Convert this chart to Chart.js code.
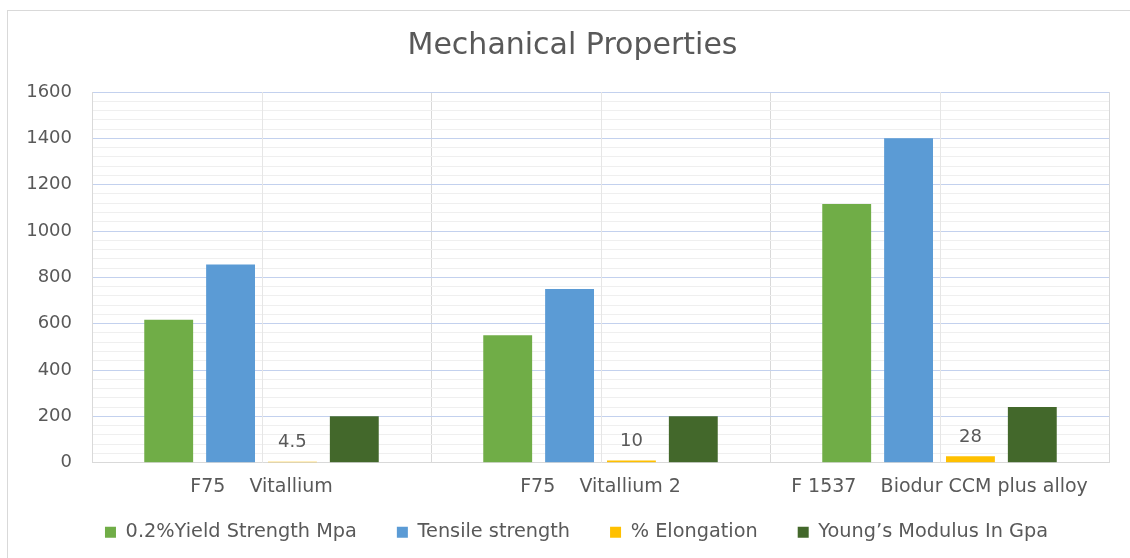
<!DOCTYPE html>
<html>
<head>
<meta charset="utf-8">
<script src="https://cdn.jsdelivr.net/npm/chart.js@4/dist/chart.umd.min.js"></script>
<style>
  html, body { margin: 0; padding: 0; background: #ffffff; }
  #wrap { width: 1130px; height: 558px; position: relative; }
</style>
</head>
<body>
<div id="wrap"><canvas id="c" width="1130" height="558"></canvas></div>
<script>
const categories = ["F75    Vitallium", "F75    Vitallium 2", "F 1537    Biodur CCM plus alloy"];
const seriesNames = ["0.2%Yield Strength Mpa", "Tensile strength", "% Elongation", "Young\u2019s Modulus In Gpa"];
const yieldStrength = [617, 550, 1117];
const tensileStrength = [856, 750, 1400];
const elongation = [4.5, 10, 28];
const youngsModulus = [200, 200, 240];
const seriesColors = ["#70AD47", "#5B9BD5", "#FFC000", "#43682B"];
const yTickMax = 1600;
const yMajorStep = 200;
const yMinorStep = 40;
const labelledSeries = [2];

const FONT = "'DejaVu Sans', 'Open Sans', sans-serif";
const TEXT = "#595959";

const frame = {
  id: 'frame',
  afterLayout(chart) {
    // centre title and legend a little to the right, as in the original
    if (chart.titleBlock) chart.titleBlock.left += 36;
    if (chart.legend) chart.legend.left += 44;
  },
  beforeDraw(chart) {
    const ctx = chart.ctx;
    ctx.save();
    ctx.fillStyle = '#ffffff';
    ctx.fillRect(0, 0, chart.width, chart.height);
    ctx.strokeStyle = '#D9D9D9';
    ctx.lineWidth = 1;
    ctx.strokeRect(7.5, 10.5, chart.width + 20, chart.height + 20);
    ctx.restore();
    // let the x tick labels overflow the (deliberately short) axis box
    if (chart.scales.x) chart.scales.x._computeLabelArea = () => undefined;
  }
};

const centerLines = {
  id: 'centerLines',
  beforeDatasetsDraw(chart) {
    const x = chart.scales.x, a = chart.chartArea, ctx = chart.ctx;
    ctx.save();
    ctx.strokeStyle = '#E6E6E6';
    ctx.lineWidth = 1;
    for (let i = 0; i < categories.length; i++) {
      const px = Math.round(x.getPixelForValue(i)) + 0.5;
      ctx.beginPath();
      ctx.moveTo(px, a.top);
      ctx.lineTo(px, a.bottom);
      ctx.stroke();
    }
    ctx.restore();
  }
};

const valueLabels = {
  id: 'valueLabels',
  afterDatasetsDraw(chart) {
    const ctx = chart.ctx;
    ctx.save();
    ctx.font = "18px " + FONT;
    ctx.fillStyle = TEXT;
    ctx.textAlign = 'center';
    ctx.textBaseline = 'middle';
    labelledSeries.forEach(di => {
      const meta = chart.getDatasetMeta(di);
      meta.data.forEach((el, i) => {
        ctx.fillText(String(chart.data.datasets[di].data[i]), el.x, el.y - 19);
      });
    });
    ctx.restore();
  }
};

const datasets = [yieldStrength, tensileStrength, elongation, youngsModulus].map((d, i) => ({
  label: seriesNames[i],
  data: d,
  backgroundColor: seriesColors[i],
  borderWidth: 0,
  categoryPercentage: 0.73,
  barPercentage: 0.79
}));

new Chart(document.getElementById('c'), {
  type: 'bar',
  data: { labels: categories, datasets },
  options: {
    responsive: false,
    animation: false,
    devicePixelRatio: 1,
    layout: { padding: { left: 0, right: 21, top: 0, bottom: 6 } },
    plugins: {
      title: {
        display: true,
        text: 'Mechanical Properties',
        color: TEXT,
        font: { family: FONT, size: 30, weight: 'normal' },
        padding: { top: 28, bottom: 28 }
      },
      legend: {
        position: 'bottom',
        labels: {
          color: TEXT,
          font: { family: FONT, size: 19.3 },
          boxWidth: 11,
          boxHeight: 11,
          padding: 40
        }
      },
      tooltip: { enabled: false }
    },
    scales: {
      x: {
        offset: true,
        afterFit(s) { s.height = 20; },
        grid: { offset: true, color: '#D9D9D9', drawTicks: false },
        border: { color: '#D9D9D9' },
        ticks: { color: TEXT, font: { family: FONT, size: 19 }, padding: 13, maxRotation: 0 }
      },
      y: {
        min: 0,
        max: yTickMax,
        afterFit(s) { s.width = 92; },
        grid: {
          drawTicks: false,
          color: c => (c.tick.value % yMajorStep === 0 ? '#C3D1EE' : '#EFEFEF')
        },
        border: { color: '#D9D9D9' },
        ticks: {
          stepSize: yMinorStep,
          autoSkip: false,
          color: TEXT,
          font: { family: FONT, size: 18 },
          padding: 20,
          callback: v => (v % yMajorStep === 0 ? String(v) : '')
        }
      }
    }
  },
  plugins: [frame, centerLines, valueLabels]
});
</script>
</body>
</html>
